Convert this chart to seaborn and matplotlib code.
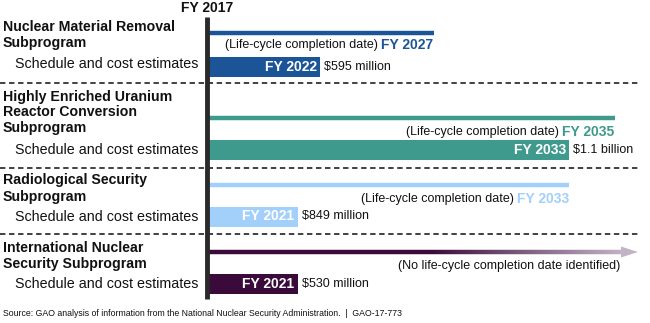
import numpy as np
import pandas as pd
import matplotlib
matplotlib.use("Agg")
import matplotlib.pyplot as plt
import seaborn as sns
from matplotlib.collections import LineCollection
from matplotlib.patches import Polygon

# ---------------- data ----------------
programs = ["Nuclear Material Removal", "Highly Enriched Uranium Reactor Conversion",
            "Radiological Security", "International Nuclear Security"]
heading_lines = [["Nuclear Material Removal", "Subprogram"],
                 ["Highly Enriched Uranium", "Reactor Conversion", "Subprogram"],
                 ["Radiological Security", "Subprogram"],
                 ["International Nuclear", "Security Subprogram"]]
start_year = 2017
lifecycle_year = [2027, 2035, 2033, None]
schedule_year = [2022, 2033, 2021, 2021]
cost_labels = ["$595 million", "$1.1 billion", "$849 million", "$530 million"]
colors = ["#1c5597", "#3f9a8e", "#a3cffb", "#3a0a3a"]

# ---------------- layout (pixels) ----------------
W, H = 650, 323
X0 = 207          # pixel of FY 2017 line
PX = 22.65        # pixels per year
bar_y = [67, 149.5, 216.5, 283.5]
line_y = [33, 118, 185, 252]
label_y = [45, 132, 199, 266]
head_y = [[27, 43], [97, 112, 128], [180, 197], [248, 264]]
sched_y = [64, 150, 217, 284]
sep_y = [83, 168, 234]

sns.set_theme(style="white")
plt.rcParams["font.family"] = ["Liberation Sans", "DejaVu Sans"]

fig = plt.figure(figsize=(6.5, 3.23), dpi=100)
ax = fig.add_axes([0, 0, 1, 1])

df = pd.DataFrame({
    "program": programs,
    "ypos": bar_y,
    "years": [y - start_year for y in schedule_year],
})
sns.barplot(data=df, x="years", y="ypos", hue="program", palette=colors,
            orient="h", native_scale=True, width=20 / 67.0, legend=False,
            saturation=1, ax=ax, linewidth=0)

ax.set_xlim(-X0 / PX, (W - X0) / PX)
ax.set_ylim(H, 0)
ax.axis("off")

def fx(p):
    return (p - X0) / PX

# life-cycle thin lines
for i, ly in enumerate(lifecycle_year):
    if ly is not None:
        ax.hlines(line_y[i], 0, ly - start_year, color=colors[i], lw=3.2, zorder=3)

# gradient arrow for International
dark = np.array(matplotlib.colors.to_rgb("#3a0a3a"))
light = np.array(matplotlib.colors.to_rgb("#c3b3c7"))
xs = np.linspace(fx(209), fx(623), 300)
segs = [[(xs[k], line_y[3]), (xs[k + 1], line_y[3])] for k in range(len(xs) - 1)]
cols = []
for k in range(len(xs) - 1):
    p = X0 + xs[k] * PX
    t = np.clip((p - 430) / (623 - 430), 0, 1)
    cols.append(dark * (1 - t) + light * t)
ax.add_collection(LineCollection(segs, colors=cols, linewidths=3.2, zorder=3))
ax.add_patch(Polygon([(fx(621), line_y[3] - 5.5), (fx(638), line_y[3]), (fx(621), line_y[3] + 5.5)],
                     closed=True, color="#c3b3c7", lw=0, zorder=3))

# separators
ax.hlines(sep_y, fx(0), fx(640), color="#333333", lw=1.3, linestyles=(0, (3, 2)), zorder=1)

# FY 2017 vertical line
ax.vlines(0, 17, 299, color="#2a2a2a", lw=3.5, zorder=5)
ax.text(0, 8, "FY 2017", ha="center", va="center", fontsize=10, fontweight="bold", color="#111111")

# headings
for i in range(4):
    for j, s in enumerate(heading_lines[i]):
        ax.text(fx(3), head_y[i][j], s, ha="left", va="center", fontsize=10.2,
                fontweight="bold", color="#111111")
    ax.text(fx(15), sched_y[i], "Schedule and cost estimates", ha="left", va="center",
            fontsize=10.3, color="#111111")

# bar labels and costs
for i in range(4):
    end = schedule_year[i] - start_year
    ax.text(end - 3.5 / PX, bar_y[i], f"FY {schedule_year[i]}", ha="right", va="center",
            fontsize=10, fontweight="bold", color="white", zorder=6)
    ax.text(end + 4 / PX, bar_y[i], cost_labels[i], ha="left", va="center",
            fontsize=9, color="#111111")

# life-cycle labels
for i in range(4):
    ly = lifecycle_year[i]
    if ly is not None:
        right = ly - start_year
        t = ax.text(right, label_y[i], f"FY {ly}", ha="right", va="center", fontsize=10,
                    fontweight="bold", color=colors[i])
        fig.canvas.draw()
        bb = t.get_window_extent()
        ax.annotate("(Life-cycle completion date) ", xy=(bb.x0, 0), xycoords=("figure pixels", "data"),
                    xytext=(bb.x0, label_y[i]), textcoords=("figure pixels", "data"),
                    ha="right", va="center", fontsize=9, color="#111111")
    else:
        ax.text(fx(620), label_y[i], "(No life-cycle completion date identified)", ha="right",
                va="center", fontsize=9, color="#111111")

ax.text(fx(3), 313, "Source: GAO analysis of information from the National Nuclear Security Administration.  |  GAO-17-773",
        ha="left", va="center", fontsize=6.3, color="#111111")

fig.savefig("out.png", dpi=100)
